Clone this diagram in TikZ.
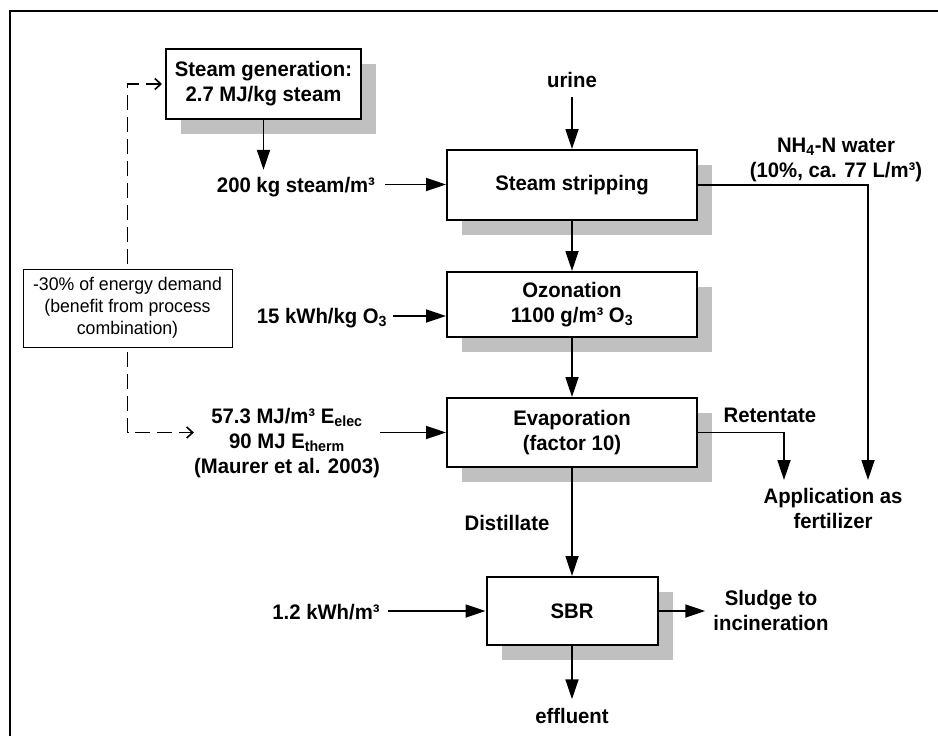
\documentclass[tikz,border=0pt]{standalone}
\usepackage{fontspec}
\setmainfont{Liberation Sans}[FakeStretch=0.967]
\usetikzlibrary{arrows.meta,shadows}
\definecolor{shadowgray}{RGB}{192,192,192}
\tikzset{
  proc/.style={draw, line width=2pt, fill=white, minimum width=250pt,
    minimum height=70pt, inner sep=0pt, align=center,
    font=\bfseries\fontsize{21}{25}\selectfont,
    drop shadow={shadow xshift=15pt, shadow yshift=-15pt, fill=shadowgray, opacity=1}},
  lbl/.style={align=center, inner sep=0pt, font=\bfseries\fontsize{21}{25}\selectfont},
  lblone/.style={lbl, text height=15pt, text depth=0pt},
  flow/.style={line width=1.8pt, -{Triangle[length=20pt,width=13pt]}},
  feedback/.style={line width=1.6pt, dash pattern=on 15pt off 7pt,
    -{Straight Barb[length=6pt,width=11pt]}},
  notebox/.style={draw, line width=1pt, fill=white, align=center, inner sep=0pt,
    minimum width=209pt, minimum height=78pt, font=\fontsize{18.3}{22}\selectfont},
}
\begin{document}
\begin{tikzpicture}[x=1pt,y=-1pt]
\useasboundingbox (0,0) rectangle (938,736);
% outer frame (top and left edges)
\draw[line width=2pt] (9.5,737) -- (9.5,10.5) -- (939,10.5);

% process units
\node[proc, minimum width=195pt] (sg) at (263.5,84) {Steam generation:\\2.7 MJ/kg steam};
\node[proc] (ss) at (572,185) {Steam stripping};
\node[proc, minimum height=65pt] (oz) at (572,304.5) {Ozonation\\1100 g/m³ O\textsubscript{3}};
\node[proc, minimum height=69pt] (ev) at (572,432.5) {Evaporation\\(factor 10)};
\node[proc, minimum width=171pt, minimum height=68pt] (sbr) at (572,611) {SBR};

% inputs and outputs
\node[lblone] (urine) at (572,80) {urine};
\node[lblone] (steam) at (296,184.5) {200 kg steam/m³};
\node[lblone] (ozone) at (322,316) {15 kWh/kg O\textsubscript{3}};
\node[lbl] (energy) at (287,443) {57.3 MJ/m³ E\textsubscript{elec}\\90 MJ E\textsubscript{therm}\\(Maurer et al. 2003)};
\node[lbl] (nh4) at (836,160) {NH\textsubscript{4}-N water\\(10\%, ca. 77 L/m³)};
\node[lblone] (ret) at (770,414.5) {Retentate};
\node[lbl] (fert) at (833,508) {Application as\\fertilizer};
\node[lblone] (dist) at (507,522.5) {Distillate};
\node[lblone] (kwh) at (326,612) {1.2 kWh/m³};
\node[lbl] (sludge) at (771,610) {Sludge to\\incineration};
\node[lblone] (effl) at (572,716) {effluent};

\coordinate (nhEnd) at (868,480);
\coordinate (retEnd) at (784,480);

% feedback of the combined energy saving
\draw[feedback, shorten >=3pt] (127.5,308) |- (sg.west);
\draw[feedback] (127.5,308) |- (energy.west |- ev.west);
\node[notebox] (note) at (127.5,308) {-30\% of energy demand\\(benefit from process\\combination)};

% material and energy flows
\draw[flow, shorten >=7pt] (sg.south) -- (sg.south |- steam.north);
\draw[flow, shorten <=10pt] (steam.east) -- (steam.east -| ss.west);
\draw[flow, shorten <=17pt] (urine.center) -- (ss.north);
\draw[flow] (ss.south) -- (oz.north);
\draw[flow, shorten <=6pt] (ozone.east) -- (ozone.east -| oz.west);
\draw[flow] (oz.south) -- (ev.north);
\draw[flow] (energy.east |- ev.west) -- (ev.west);
\draw[flow] (ss.east) -| (nhEnd);
\draw[flow] (ev.east) -| (retEnd);
\draw[flow] (ev.south) -- (sbr.north);
\draw[flow, shorten <=8pt] (kwh.east |- sbr.west) -- (sbr.west);
\draw[flow, shorten >=8pt] (sbr.east) -- (sbr.east -| sludge.west);
\draw[flow, shorten >=9pt] (sbr.south) -- (effl.north);
\end{tikzpicture}
\end{document}
